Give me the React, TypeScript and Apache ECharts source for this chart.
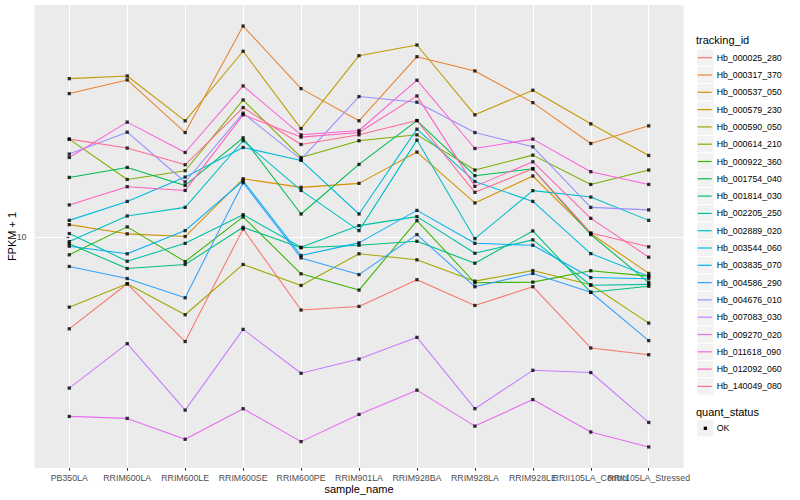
import React, { useEffect, useRef } from "react";
import * as echarts from "echarts";

const categories = [
  "PB350LA", "RRIM600LA", "RRIM600LE", "RRIM600SE", "RRIM600PE", "RRIM901LA",
  "RRIM928BA", "RRIM928LA", "RRIM928LE", "RRII105LA_Control", "RRII105LA_Stressed",
];

const trackingIds = [
  "Hb_000025_280", "Hb_000317_370", "Hb_000537_050", "Hb_000579_230", "Hb_000590_050",
  "Hb_000614_210", "Hb_000922_360", "Hb_001754_040", "Hb_001814_030", "Hb_002205_250",
  "Hb_002889_020", "Hb_003544_060", "Hb_003835_070", "Hb_004586_290", "Hb_004676_010",
  "Hb_007083_030", "Hb_009270_020", "Hb_011618_090", "Hb_012092_060", "Hb_140049_080",
];

const lineColors = [
  "#F8766D", "#EA8331", "#D89000", "#C09B00", "#A3A500", "#7CAE00", "#39B600", "#00BB4E",
  "#00BF7D", "#00C1A3", "#00BFC4", "#00BAE0", "#00B0F6", "#35A2FF", "#9590FF", "#C77CFF",
  "#E76BF3", "#FA62DB", "#FF62BC", "#FF6C91",
];

// FPKM + 1 per sample
const hb000025_280 = [5.47, 7.36, 5.03, 10.57, 6.19, 6.34, 7.56, 6.38, 7.22, 4.82, 4.61];
const hb000317_370 = [25.79, 28.22, 19.95, 40.26, 26.65, 21.55, 32.89, 29.95, 24.3, 18.56, 20.85];
const hb000537_050 = [10.87, 10.23, 10.05, 14.71, 13.9, 14.27, 17.54, 12.54, 14.98, 10.25, 7.88];
const hb000579_230 = [28.46, 28.97, 21.55, 34.09, 20.48, 33.11, 35.53, 22.42, 26.37, 21.13, 17.15];
const hb000590_050 = [6.31, 7.36, 6.0, 8.36, 7.28, 8.97, 8.62, 7.49, 8.03, 7.31, 5.68];
const hb000614_210 = [19.1, 14.64, 15.51, 24.74, 16.93, 18.9, 19.65, 15.58, 17.19, 14.17, 15.58];
const hb000922_360 = [8.91, 10.71, 8.52, 11.44, 7.86, 7.06, 11.16, 7.41, 7.44, 8.02, 7.74];
const hb001754_040 = [14.84, 15.85, 14.08, 19.27, 11.66, 16.17, 21.59, 15.01, 15.71, 10.18, 7.42];
const hb001814_030 = [9.58, 8.14, 8.36, 10.68, 9.33, 9.49, 9.74, 8.43, 10.43, 6.96, 7.24];
const hb002205_250 = [10.25, 8.54, 9.61, 11.61, 9.36, 10.8, 11.46, 9.0, 9.83, 7.29, 7.33];
const hb002889_020 = [9.72, 11.51, 12.18, 18.9, 13.62, 10.45, 18.98, 9.91, 13.6, 13.04, 11.18];
const hb003544_060 = [11.18, 12.67, 14.88, 18.08, 16.6, 11.66, 20.4, 14.45, 12.67, 8.98, 7.74];
const hb003835_070 = [9.43, 8.97, 10.45, 14.52, 8.87, 9.64, 11.94, 9.61, 9.49, 7.67, 7.61];
const hb004586_290 = [8.25, 7.62, 6.71, 14.33, 8.73, 7.82, 10.18, 7.22, 7.88, 6.96, 5.06];
const hb004676_010 = [17.31, 20.0, 14.4, 22.67, 16.71, 25.29, 24.37, 19.95, 18.16, 12.18, 11.98];
const hb007083_030 = [3.7, 4.96, 3.2, 5.45, 4.08, 4.48, 5.17, 3.23, 4.16, 4.1, 2.95];
const hb009270_020 = [3.07, 3.03, 2.64, 3.23, 2.6, 3.11, 3.65, 2.88, 3.43, 2.77, 2.51];
const hb011618_090 = [16.93, 21.37, 17.49, 27.13, 19.65, 20.22, 28.17, 17.96, 19.1, 15.41, 14.17];
const hb012092_060 = [12.38, 13.96, 13.62, 22.42, 19.36, 19.95, 25.4, 13.99, 16.45, 11.33, 8.77];
const hb140049_080 = [19.1, 18.01, 16.13, 23.52, 18.44, 19.65, 21.59, 13.45, 15.71, 10.29, 9.39];

const seriesValues = [
  hb000025_280, hb000317_370, hb000537_050, hb000579_230, hb000590_050,
  hb000614_210, hb000922_360, hb001754_040, hb001814_030, hb002205_250,
  hb002889_020, hb003544_060, hb003835_070, hb004586_290, hb004676_010,
  hb007083_030, hb009270_020, hb011618_090, hb012092_060, hb140049_080,
];

const yTicks = [10];
const quantStatus = ["OK"];

const FONT = "Liberation Sans, Arial, Helvetica, sans-serif";

export default function App() {
  const ref = useRef<HTMLDivElement>(null);

  useEffect(() => {
    if (!ref.current) return;
    const chart = echarts.init(ref.current, undefined, { renderer: "svg" });

    const all = seriesValues.flat();
    const lmin = Math.log10(Math.min(...all));
    const lmax = Math.log10(Math.max(...all));
    const span = lmax - lmin;
    const yMin = Math.pow(10, lmin - 0.05 * span);
    const yMax = Math.pow(10, lmax + 0.05 * span);

    const idx = categories.map((_, i) => i);
    const evenIdx = idx.filter((i) => i % 2 === 0);
    const oddIdx = idx.filter((i) => i % 2 === 1);

    const panel = { left: 34.5, top: 5, right: 683.5, bottom: 468 };
    const keyX = 696.7;
    const keySize = 17.3;
    const keyTop = 49.05;

    const graphics: any[] = [
      {
        type: "rect",
        z: -100,
        silent: true,
        shape: { x: panel.left, y: panel.top, width: panel.right - panel.left, height: panel.bottom - panel.top },
        style: { fill: "#EBEBEB" },
      },
      {
        type: "text",
        left: 696,
        top: 34.5,
        style: { text: "tracking_id", fill: "#000", font: `11px ${FONT}` },
      },
    ];
    trackingIds.forEach((_, i) => {
      graphics.push({
        type: "rect",
        z: -1,
        silent: true,
        shape: { x: keyX, y: keyTop + i * keySize, width: keySize, height: keySize },
        style: { fill: "#F2F2F2", stroke: "#FFFFFF", lineWidth: 1 },
      });
    });
    const qTitleY = 412.3;
    graphics.push({
      type: "text",
      left: 696,
      top: qTitleY - 6,
      style: { text: "quant_status", fill: "#000", font: `11px ${FONT}` },
    });
    quantStatus.forEach((label, i) => {
      const cy = 428.3 + i * keySize;
      graphics.push({
        type: "rect",
        z: -1,
        silent: true,
        shape: { x: keyX, y: cy - keySize / 2, width: keySize, height: keySize },
        style: { fill: "#F2F2F2", stroke: "#FFFFFF", lineWidth: 1 },
      });
      graphics.push({
        type: "rect",
        shape: { x: keyX + keySize / 2 - 1.65, y: cy - 1.65, width: 3.3, height: 3.3 },
        style: { fill: "#000" },
      });
      graphics.push({
        type: "text",
        left: 716.7,
        top: cy - 5,
        style: { text: label, fill: "#000", font: `8.8px ${FONT}` },
      });
    });

    const lineSeries = trackingIds.map((id, s) => ({
      name: id,
      type: "line",
      xAxisIndex: 0,
      data: seriesValues[s].map((v, i) => [i, v]),
      showSymbol: false,
      symbol: "none",
      itemStyle: { color: lineColors[s] },
      lineStyle: { color: lineColors[s], width: 1.07 },
      z: 2,
      silent: true,
    }));

    const points: number[][] = [];
    seriesValues.forEach((vals) => vals.forEach((v, i) => points.push([i, v])));

    const labelStyle = {
      formatter: (v: number) => categories[Math.round(v)] ?? "",
      color: "#4D4D4D",
      fontSize: 8.8,
      fontFamily: FONT,
      margin: 5,
      hideOverlap: false,
      showMinLabel: true,
      showMaxLabel: true,
    };

    chart.setOption({
      animation: false,
      backgroundColor: "#FFFFFF",
      textStyle: { fontFamily: FONT },
      grid: {
        left: panel.left,
        top: panel.top,
        width: panel.right - panel.left,
        height: panel.bottom - panel.top,
        containLabel: false,
        outerBoundsMode: "none",
      },
      xAxis: [
        {
          type: "value",
          min: -0.6,
          max: 10.6,
          position: "bottom",
          name: "sample_name",
          nameLocation: "middle",
          nameGap: 15,
          nameMoveOverlap: false,
          nameTextStyle: { color: "#000", fontSize: 11, fontFamily: FONT },
          axisLine: { show: false },
          axisTick: { show: true, customValues: idx, length: 2.75, lineStyle: { color: "#333333", width: 1.07 } },
          axisLabel: { show: true, customValues: evenIdx, ...labelStyle },
          splitLine: { show: true, lineStyle: { color: "#FFFFFF", width: 1.07 } },
        },
        {
          type: "value",
          min: -0.6,
          max: 10.6,
          position: "bottom",
          offset: 0,
          axisLine: { show: false },
          axisTick: { show: false },
          axisLabel: { show: true, customValues: oddIdx, ...labelStyle },
          splitLine: { show: false },
        },
      ],
      yAxis: {
        type: "log",
        logBase: 10,
        min: yMin,
        max: yMax,
        name: "FPKM + 1",
        nameLocation: "middle",
        nameGap: 17,
        nameRotate: 90,
        nameMoveOverlap: false,
        nameTextStyle: { color: "#000", fontSize: 11, fontFamily: FONT },
        axisLine: { show: false },
        axisTick: {
          show: true,
          length: 2.75,
          customValues: yTicks,
          lineStyle: { color: "#333333", width: 1.07 },
        },
        axisLabel: {
          show: true,
          customValues: yTicks,
          formatter: (v: number) => (yTicks.some((t) => Math.abs(v - t) < 1e-6) ? String(Math.round(v)) : ""),
          color: "#4D4D4D",
          fontSize: 8.8,
          fontFamily: FONT,
          margin: 8,
        },
        splitLine: { show: true, lineStyle: { color: "#FFFFFF", width: 1.07 } },
        minorSplitLine: { show: false },
      },
      legend: {
        data: trackingIds,
        orient: "vertical",
        left: 697.7,
        top: keyTop,
        padding: 0,
        itemGap: 0,
        itemWidth: 14,
        itemHeight: 1.2,
        icon: "rect",
        selectedMode: false,
        textStyle: { color: "#000", fontSize: 8.8, fontFamily: FONT, lineHeight: keySize },
      },
      graphic: graphics,
      series: [
        ...lineSeries,
        {
          type: "scatter",
          xAxisIndex: 0,
          data: points,
          symbol: "rect",
          symbolSize: 3.3,
          itemStyle: { color: "#000000" },
          z: 5,
          silent: true,
        },
      ],
    });

    return () => chart.dispose();
  }, []);

  return (
    <div
      ref={ref}
      style={{ position: "fixed", left: 0, top: 0, width: 800, height: 500, background: "#FFFFFF" }}
    />
  );
}
